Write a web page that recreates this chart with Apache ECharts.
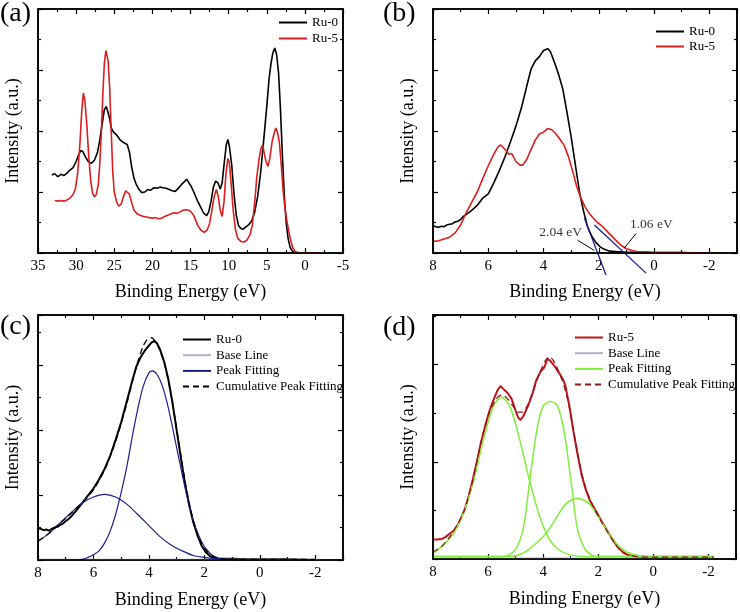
<!DOCTYPE html>
<html><head><meta charset="utf-8">
<script src="https://cdn.jsdelivr.net/npm/echarts@6/dist/echarts.min.js"></script>
<style>html,body{margin:0;padding:0;background:#fff}#wrap{position:relative;width:740px;height:612px}#c{width:740px;height:612px;background:#fff}.frm{position:absolute;box-sizing:border-box;border:1.6px solid #000;pointer-events:none}</style>
</head><body><div id="wrap"><div id="c"></div></div>
<script>
// ---------- Panel (a): valence band survey ----------
const aRu0 = [[33.2,1.28],[32.8,1.30],[32.4,1.25],[32.0,1.29],[31.6,1.27],[31.2,1.31],[30.8,1.36],[30.4,1.40],[30.0,1.50],[29.7,1.60],[29.4,1.68],[29.1,1.66],[28.8,1.58],[28.4,1.50],[28.0,1.47],[27.6,1.52],[27.2,1.65],[26.9,1.85],[26.6,2.10],[26.3,2.35],[26.05,2.40],[25.8,2.30],[25.6,2.20],[25.4,2.05],[25.1,1.98],[24.8,1.95],[24.5,1.90],[24.2,1.85],[23.9,1.82],[23.6,1.80],[23.3,1.78],[23.0,1.65],[22.7,1.40],[22.4,1.22],[22.1,1.12],[21.8,1.05],[21.4,0.99],[21.0,1.00],[20.6,1.04],[20.2,1.03],[19.8,1.07],[19.4,1.06],[19.0,1.08],[18.6,1.07],[18.2,1.06],[17.8,1.04],[17.4,1.02],[17.0,1.01],[16.6,1.06],[16.2,1.12],[15.8,1.17],[15.5,1.21],[15.2,1.15],[14.9,1.09],[14.5,0.98],[14.1,0.86],[13.7,0.76],[13.3,0.66],[12.9,0.61],[12.6,0.68],[12.3,0.85],[12.0,1.08],[11.7,1.18],[11.4,1.15],[11.1,1.05],[10.85,1.15],[10.6,1.45],[10.3,1.78],[10.1,1.86],[9.9,1.75],[9.6,1.45],[9.3,0.98],[9.0,0.62],[8.7,0.45],[8.4,0.40],[8.1,0.39],[7.8,0.42],[7.4,0.46],[7.0,0.52],[6.6,0.66],[6.2,0.92],[5.8,1.32],[5.4,1.85],[5.0,2.40],[4.7,2.85],[4.45,3.10],[4.2,3.28],[3.95,3.36],[3.7,3.25],[3.45,2.95],[3.2,2.35],[2.95,1.60],[2.7,0.95],[2.45,0.50],[2.2,0.24],[1.95,0.10],[1.7,0.04],[1.4,0.01],[1.0,0.0]];
const aRu5 = [[32.8,0.86],[32.4,0.85],[32.0,0.86],[31.6,0.85],[31.2,0.87],[30.8,0.90],[30.4,0.96],[30.1,1.05],[29.8,1.30],[29.5,1.80],[29.25,2.35],[29.05,2.62],[28.85,2.50],[28.6,2.10],[28.35,1.60],[28.1,1.20],[27.85,0.98],[27.6,0.92],[27.35,0.96],[27.1,1.12],[26.9,1.45],[26.7,1.95],[26.5,2.60],[26.3,3.10],[26.1,3.32],[25.95,3.35],[25.8,3.15],[25.6,2.70],[25.4,2.00],[25.2,1.35],[25.0,1.00],[24.7,0.84],[24.4,0.77],[24.1,0.80],[23.8,0.92],[23.5,1.02],[23.25,1.04],[23.0,0.96],[22.7,0.82],[22.4,0.70],[22.0,0.64],[21.6,0.62],[21.2,0.60],[20.8,0.59],[20.4,0.58],[20.0,0.57],[19.6,0.58],[19.2,0.56],[18.8,0.57],[18.4,0.60],[18.0,0.62],[17.6,0.64],[17.2,0.66],[16.8,0.65],[16.4,0.67],[16.0,0.70],[15.6,0.71],[15.2,0.70],[14.9,0.67],[14.6,0.62],[14.3,0.53],[14.0,0.44],[13.6,0.37],[13.2,0.34],[12.8,0.38],[12.5,0.48],[12.2,0.70],[11.9,0.92],[11.6,1.04],[11.35,0.92],[11.1,0.70],[10.85,0.60],[10.6,0.85],[10.35,1.30],[10.1,1.55],[9.9,1.48],[9.65,1.10],[9.4,0.70],[9.1,0.38],[8.8,0.24],[8.4,0.19],[8.0,0.18],[7.6,0.21],[7.2,0.30],[6.9,0.45],[6.6,0.80],[6.3,1.25],[6.0,1.55],[5.75,1.72],[5.55,1.77],[5.35,1.65],[5.1,1.50],[4.85,1.42],[4.6,1.55],[4.3,1.82],[4.0,1.98],[3.8,2.05],[3.6,1.98],[3.35,1.82],[3.1,1.45],[2.85,1.02],[2.6,0.72],[2.35,0.52],[2.1,0.35],[1.85,0.20],[1.6,0.09],[1.3,0.03],[1.0,0.01],[0.5,0.0],[-0.5,0.0],[-1.5,0.0],[-2.3,0.0]];

// ---------- Panel (b): valence band edge ----------
const bRu0 = [[8.0,0.45],[7.9,0.43],[7.8,0.42],[7.7,0.44],[7.6,0.43],[7.5,0.46],[7.4,0.47],[7.3,0.48],[7.2,0.51],[7.1,0.52],[7.0,0.55],[6.9,0.60],[6.8,0.63],[6.6,0.70],[6.4,0.78],[6.2,0.90],[6.0,0.97],[5.8,1.15],[5.6,1.35],[5.4,1.57],[5.2,1.82],[5.0,2.08],[4.8,2.38],[4.6,2.75],[4.45,3.02],[4.3,3.15],[4.15,3.22],[4.0,3.32],[3.85,3.35],[3.75,3.30],[3.6,3.12],[3.45,2.92],[3.3,2.68],[3.15,2.30],[3.0,1.90],[2.85,1.45],[2.7,1.00],[2.55,0.68],[2.4,0.42],[2.25,0.27],[2.1,0.17],[1.95,0.10],[1.8,0.06],[1.6,0.03],[1.3,0.02],[1.0,0.01],[0.5,0.01],[0.0,0.0],[-1.0,0.0],[-2.2,0.0]];
const bRu5 = [[8.0,0.19],[7.8,0.20],[7.6,0.23],[7.4,0.26],[7.2,0.33],[7.0,0.46],[6.8,0.66],[6.6,0.83],[6.4,1.00],[6.2,1.22],[6.0,1.43],[5.8,1.62],[5.65,1.74],[5.55,1.77],[5.4,1.70],[5.25,1.62],[5.15,1.63],[5.0,1.50],[4.85,1.44],[4.75,1.44],[4.6,1.54],[4.45,1.70],[4.3,1.85],[4.15,1.95],[4.0,1.98],[3.85,2.04],[3.7,2.02],[3.55,1.95],[3.4,1.86],[3.25,1.76],[3.1,1.58],[2.95,1.35],[2.8,1.09],[2.65,0.90],[2.5,0.76],[2.35,0.65],[2.2,0.57],[2.05,0.50],[1.9,0.45],[1.75,0.38],[1.6,0.31],[1.45,0.24],[1.3,0.17],[1.15,0.11],[1.0,0.07],[0.8,0.04],[0.6,0.02],[0.3,0.02],[0.0,0.01],[-0.5,0.01],[-1.0,0.01],[-1.5,0.0],[-2.2,0.0]];
const bTangent1 = [[2.52,0.57],[1.74,-0.36]];
const bTangent2 = [[2.16,0.46],[0.29,-0.33]];
const bNoteText = ['2.04 eV','1.06 eV'];
const bNotePos = [[3.38,0.33],[0.10,0.46]];
const bArrows = [[[2.77,0.21],[2.16,0.04]],[[0.65,0.32],[1.08,0.08]]];

// ---------- Panel (c): Ru-0 peak fitting ----------
const cRu0 = [[8.0,0.49],[7.9,0.48],[7.8,0.46],[7.7,0.47],[7.6,0.45],[7.5,0.48],[7.4,0.50],[7.3,0.51],[7.2,0.54],[7.1,0.56],[7.0,0.60],[6.9,0.63],[6.8,0.67],[6.6,0.77],[6.4,0.88],[6.2,0.99],[6.0,1.10],[5.8,1.24],[5.6,1.40],[5.4,1.60],[5.2,1.85],[5.0,2.12],[4.8,2.44],[4.6,2.76],[4.45,2.98],[4.3,3.12],[4.15,3.22],[4.0,3.30],[3.9,3.35],[3.8,3.37],[3.7,3.33],[3.6,3.24],[3.45,3.05],[3.3,2.78],[3.15,2.42],[3.0,2.00],[2.85,1.58],[2.7,1.18],[2.55,0.85],[2.4,0.58],[2.25,0.38],[2.1,0.22],[1.95,0.12],[1.8,0.06],[1.65,0.03],[1.5,0.02],[1.0,0.02],[0.5,0.01],[0.0,0.01],[-1.0,0.01],[-2.0,0.0]];
const cBase = [[8.0,0.01],[-2.2,0.01]];
const cPeak1 = [[8.0,0.0],[6.8,0.0],[6.4,0.01],[6.2,0.04],[6.0,0.08],[5.8,0.14],[5.6,0.26],[5.4,0.44],[5.2,0.70],[5.0,1.04],[4.8,1.43],[4.6,1.90],[4.4,2.33],[4.2,2.68],[4.0,2.88],[3.88,2.91],[3.7,2.85],[3.5,2.66],[3.3,2.34],[3.1,1.94],[2.9,1.52],[2.7,1.12],[2.5,0.76],[2.3,0.48],[2.1,0.28],[1.9,0.15],[1.7,0.07],[1.5,0.03],[1.2,0.01],[0.8,0.0],[-2.0,0.0]];
const cPeak2 = [[8.0,0.29],[7.6,0.41],[7.2,0.57],[6.8,0.73],[6.4,0.88],[6.0,0.97],[5.6,1.01],[5.2,0.97],[4.8,0.86],[4.4,0.70],[4.0,0.53],[3.6,0.36],[3.2,0.23],[2.8,0.14],[2.4,0.07],[2.0,0.04],[1.6,0.02],[1.2,0.01],[0.8,0.0],[-2.0,0.0]];
const cCumul = [[8.0,0.29],[7.6,0.41],[7.2,0.57],[6.8,0.72],[6.4,0.88],[6.0,1.08],[5.6,1.38],[5.2,1.82],[4.8,2.40],[4.6,2.74],[4.4,3.05],[4.2,3.30],[4.05,3.40],[3.9,3.42],[3.75,3.35],[3.6,3.22],[3.45,3.04],[3.3,2.76],[3.15,2.42],[3.0,2.02],[2.85,1.62],[2.7,1.22],[2.55,0.88],[2.4,0.60],[2.25,0.40],[2.1,0.25],[1.9,0.13],[1.7,0.06],[1.5,0.03],[1.2,0.01],[0.5,0.01],[-2.0,0.01]];

// ---------- Panel (d): Ru-5 peak fitting ----------
const dRu5 = [[8.0,0.40],[7.85,0.40],[7.7,0.41],[7.55,0.45],[7.4,0.52],[7.25,0.58],[7.1,0.70],[7.0,0.82],[6.85,1.02],[6.7,1.30],[6.55,1.65],[6.4,2.02],[6.25,2.42],[6.1,2.75],[5.95,3.05],[5.8,3.28],[5.65,3.48],[5.55,3.56],[5.45,3.50],[5.3,3.42],[5.15,3.30],[5.0,3.05],[4.9,2.90],[4.82,2.86],[4.7,2.96],[4.55,3.15],[4.4,3.38],[4.25,3.68],[4.1,3.85],[3.95,3.95],[3.85,4.12],[3.75,4.08],[3.6,3.98],[3.45,3.85],[3.3,3.72],[3.2,3.58],[3.05,3.15],[2.9,2.62],[2.75,2.15],[2.6,1.72],[2.45,1.42],[2.3,1.20],[2.15,1.05],[2.0,0.90],[1.85,0.75],[1.7,0.61],[1.55,0.47],[1.4,0.33],[1.25,0.22],[1.1,0.14],[0.95,0.09],[0.75,0.06],[0.5,0.04],[0.0,0.03],[-1.0,0.03],[-2.2,0.03]];
const dBase = [[8.0,0.02],[-2.2,0.02]];
const dPeakA = [[8.0,0.12],[7.62,0.29],[7.25,0.53],[6.89,0.95],[6.53,1.60],[6.17,2.45],[5.81,3.14],[5.51,3.33],[5.21,3.14],[4.85,2.45],[4.49,1.60],[4.13,0.88],[3.77,0.40],[3.41,0.18],[3.05,0.09],[2.45,0.05],[-2.2,0.05]];
const dPeakB = [[8.0,0.05],[5.45,0.05],[5.21,0.09],[4.97,0.23],[4.73,0.60],[4.49,1.60],[4.25,2.59],[4.01,3.14],[3.73,3.24],[3.47,3.14],[3.23,2.59],[2.99,1.60],[2.75,0.60],[2.51,0.23],[2.27,0.09],[1.97,0.05],[-2.2,0.05]];
const dPeakC = [[8.0,0.05],[5.5,0.05],[4.97,0.07],[4.61,0.16],[4.25,0.33],[3.89,0.53],[3.53,0.84],[3.17,1.14],[2.75,1.25],[2.33,1.14],[1.97,0.84],[1.61,0.53],[1.25,0.26],[0.88,0.12],[0.52,0.07],[0.04,0.05],[-2.2,0.05]];
const dCumul = [[8.0,0.14],[7.7,0.25],[7.4,0.45],[7.1,0.72],[6.85,1.02],[6.55,1.62],[6.25,2.42],[5.95,3.02],[5.7,3.30],[5.5,3.38],[5.3,3.30],[5.1,3.15],[4.9,3.02],[4.75,3.02],[4.55,3.18],[4.35,3.48],[4.15,3.80],[3.95,4.05],[3.8,4.16],[3.65,4.10],[3.45,3.88],[3.25,3.58],[3.05,3.12],[2.9,2.64],[2.75,2.18],[2.6,1.76],[2.45,1.45],[2.3,1.22],[2.15,1.04],[2.0,0.88],[1.85,0.73],[1.7,0.59],[1.55,0.45],[1.4,0.32],[1.25,0.21],[1.1,0.13],[0.9,0.08],[0.6,0.05],[0.2,0.04],[-1.0,0.04],[-2.2,0.04]];

// ---------- axis ranges ----------
const xRangeA = [-5, 35, 5];
const xRangeB = [-3, 8, 2];
const yRangeA = [0, 4, 1];
const yRangeB = [0, 4, 1];
const yRangeC = [0, 3.77, 1];
const yRangeD = [0, 5.02, 2];
const panelLetters = ['(a)','(b)','(c)','(d)'];
const xName = 'Binding Energy (eV)';
const yName = 'Intensity (a.u.)';

const FONT = 'Liberation Serif';
const ZW = '\u200b';
const grids = [
  {left:38, top:9, width:305, height:244},
  {left:433, top:9, width:304, height:244},
  {left:38, top:315, width:305, height:245},
  {left:433, top:315, width:303, height:244}
];
const tickStyle = {color:'#000', width:1.2};
function lineAx(){ return {show:true, onZero:false, lineStyle:{color:'#000', width:1.6}}; }

function xPair(gi, r, nameGap){
  function base(){ return {gridIndex:gi, type:'value', min:r[0], max:r[1], minInterval:r[2], maxInterval:r[2],
    splitNumber:Math.round((r[1]-r[0])/r[2]), inverse:true,
    splitLine:{show:false}, axisLine:lineAx(),
    axisTick:{show:true, inside:true, length:5, lineStyle:tickStyle},
    minorTick:{show:true, splitNumber:2, length:3, lineStyle:tickStyle},
    minorSplitLine:{show:false}}; }
  return [
    Object.assign(base(), {position:'bottom', name:xName, nameLocation:'middle', nameGap:nameGap,
      nameTextStyle:{fontFamily:FONT, fontSize:18, color:'#000'},
      axisLabel:{show:true, margin:6, fontFamily:FONT, fontSize:15, color:'#000',
        showMinLabel:(r[0] % r[2] === 0), showMaxLabel:true}}),
    Object.assign(base(), {position:'top', axisLabel:{show:false}})
  ];
}
function yPair(gi, r){
  function base(){ return {gridIndex:gi, type:'value', min:r[0], max:r[1], minInterval:r[2], maxInterval:r[2],
    splitNumber:Math.max(1, Math.floor((r[1]-r[0])/r[2])),
    splitLine:{show:false}, axisLine:lineAx(), axisLabel:{show:false},
    axisTick:{show:true, inside:true, length:5, lineStyle:tickStyle},
    minorTick:{show:true, splitNumber:2, length:3, lineStyle:tickStyle},
    minorSplitLine:{show:false}}; }
  return [
    Object.assign(base(), {position:'left', name:yName, nameLocation:'middle', nameGap:16,
      nameTextStyle:{fontFamily:FONT, fontSize:18, color:'#000'}}),
    Object.assign(base(), {position:'right'})
  ];
}
function line(gi, name, data, color, width, extra){
  return Object.assign({type:'line', name:name, data:data, xAxisIndex:gi*2, yAxisIndex:gi*2,
    symbol:'none', showSymbol:false,
    lineStyle:{color:color, width:width}, itemStyle:{color:color}}, extra || {});
}
function legend(names, left, top, gap){
  return {data:names, left:left, top:top, orient:'vertical', padding:0, itemGap:gap,
    itemWidth:28, itemHeight:14, selectedMode:false,
    itemStyle:{opacity:0},
    formatter:function(n){ return n.replace(/\u200b/g,''); },
    textStyle:{fontFamily:FONT, fontSize:13, color:'#000'}};
}

const RED = '#dc1e1e', DRED = '#c0141c', NAVY = '#1c1f8e', GREEN = '#80ee3c', GRAY = '#b0b2cc';

const series = [
  line(0, 'Ru-0', aRu0, '#000', 1.6),
  line(0, 'Ru-5', aRu5, RED, 1.6),
  line(1, 'Ru-0'+ZW, bRu0, '#000', 1.6),
  line(1, 'Ru-5'+ZW, bRu5, RED, 1.6),
  line(1, 'tan1', bTangent1, NAVY, 1.3, {clip:false}),
  line(1, 'tan2', bTangent2, NAVY, 1.3, {clip:false}),
  {type:'scatter', name:'notes', xAxisIndex:2, yAxisIndex:2,
    symbol:'circle', symbolSize:1, itemStyle:{color:'rgba(0,0,0,0)'},
    data:bNotePos.map(function(p,i){ return {value:p, name:bNoteText[i]}; }),
    label:{show:true, position:'inside', formatter:function(p){return p.name;},
      fontFamily:FONT, fontSize:13.5, color:'#000'},
    markLine:{silent:true, symbol:['none','arrow'], symbolSize:[0,7],
      lineStyle:{color:'#000', width:1, type:'solid'}, label:{show:false},
      data:bArrows.map(function(a){ return [{coord:a[0]},{coord:a[1]}]; })}},
  line(2, 'Ru-0'+ZW+ZW, cRu0, '#000', 2),
  line(2, 'Base Line', cBase, GRAY, 1.3),
  line(2, 'Peak Fitting', cPeak1, NAVY, 1.2, {smooth:0.3}),
  line(2, 'Peak Fitting', cPeak2, NAVY, 1.2, {smooth:0.3}),
  line(2, 'Cumulative Peak Fitting', cCumul, '#000', 1.3, {smooth:0.2, lineStyle:{color:'#000', width:1.3, type:[6,4]}}),
  line(3, 'Ru-5'+ZW+ZW, dRu5, DRED, 2),
  line(3, 'Base Line'+ZW, dBase, GRAY, 1.3),
  line(3, 'Peak Fitting'+ZW, dPeakA, GREEN, 1.5, {smooth:0.3}),
  line(3, 'Peak Fitting'+ZW, dPeakB, GREEN, 1.5, {smooth:0.3}),
  line(3, 'Peak Fitting'+ZW, dPeakC, GREEN, 1.5, {smooth:0.3}),
  line(3, 'Cumulative Peak Fitting'+ZW, dCumul, '#8e1818', 1.3, {smooth:0.2, lineStyle:{color:'#8e1818', width:1.3, type:[6,4]}})
];

const xAxes = [].concat(xPair(0, xRangeA, 30), xPair(1, xRangeB, 30), xPair(2, xRangeB, 31), xPair(3, xRangeB, 31));
const yAxes = [].concat(yPair(0, yRangeA), yPair(1, yRangeB), yPair(2, yRangeC), yPair(3, yRangeD));

const titlePos = [[0,0],[383,0],[0,313],[383,314]];
const option = {
  animation:false,
  title: panelLetters.map(function(t,i){ return {text:t, left:titlePos[i][0], top:titlePos[i][1], padding:0,
    textStyle:{fontFamily:FONT, fontSize:28, fontWeight:'normal', color:'#000'}}; }),
  grid: grids,
  xAxis: xAxes,
  yAxis: yAxes,
  graphic: grids.map(function(g){ return {type:'rect', silent:true, z:100,
    shape:{x:g.left, y:g.top, width:g.width, height:g.height},
    style:{fill:'rgba(0,0,0,0)', stroke:'#000', lineWidth:1.6}}; }),
  legend: [
    legend(['Ru-0','Ru-5'], 278, 16, 3),
    legend(['Ru-0'+ZW,'Ru-5'+ZW], 655, 25, 2),
    legend(['Ru-0'+ZW+ZW,'Base Line','Peak Fitting','Cumulative Peak Fitting'], 182, 333, 2.7),
    legend(['Ru-5'+ZW+ZW,'Base Line'+ZW,'Peak Fitting'+ZW,'Cumulative Peak Fitting'+ZW], 574, 331, 2.7)
  ],
  series: series
};
const chart = echarts.init(document.getElementById('c'));
chart.setOption(option);

// If the plot frame did not reach the canvas, outline each grid rectangle with an overlay.
function frameDrawn(){
  try {
    try { chart.getZr().flush(); } catch (e) {}
    const cvs = document.querySelectorAll('#c canvas');
    for (let k = 0; k < cvs.length; k++) {
      const cv = cvs[k];
      const ratio = (cv.width / (cv.clientWidth || cv.width)) || 1;
      const d = cv.getContext('2d').getImageData(Math.round(35*ratio), Math.round(115*ratio), Math.max(1, Math.round(6*ratio)), 1).data;
      for (let i = 0; i < d.length; i += 4) {
        if (d[i+3] > 128 && d[i] < 90 && d[i+1] < 90 && d[i+2] < 90) return true;
      }
    }
  } catch (e) {}
  return false;
}
if (!frameDrawn()) {
  const wrap = document.getElementById('wrap');
  grids.forEach(function(g){
    const el = document.createElement('div');
    el.className = 'frm';
    el.style.left = (g.left - 0.8) + 'px';
    el.style.top = (g.top - 0.8) + 'px';
    el.style.width = (g.width + 1.6) + 'px';
    el.style.height = (g.height + 1.6) + 'px';
    wrap.appendChild(el);
  });
}
</script></body></html>
